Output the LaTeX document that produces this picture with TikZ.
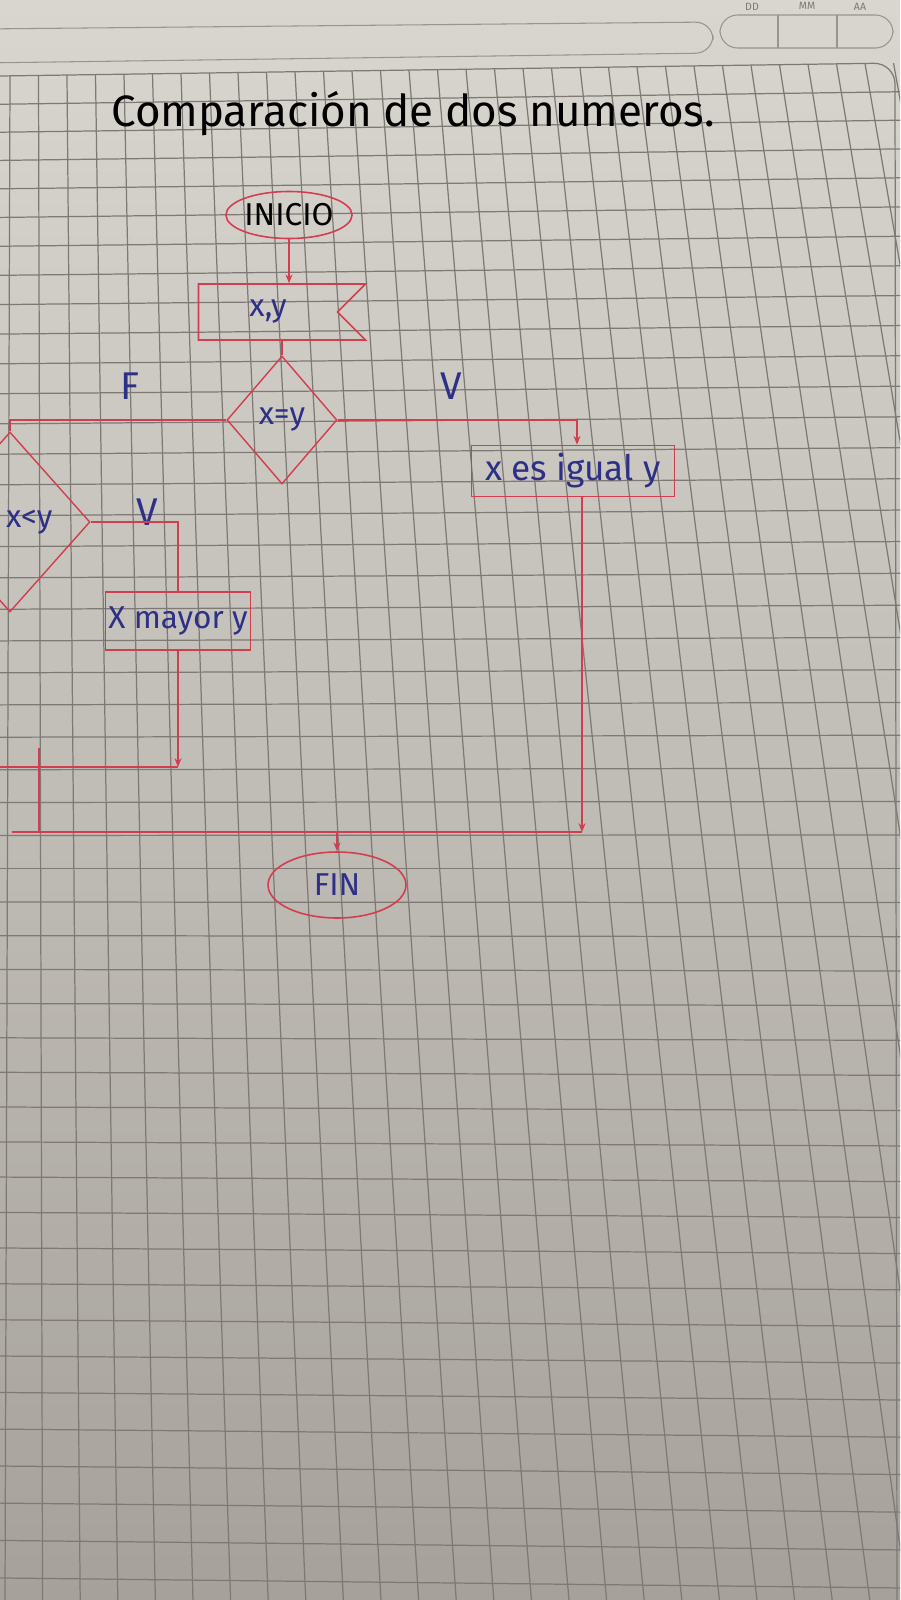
\documentclass[tikz,border=0pt]{standalone}
\usepackage{fontspec}
\setmainfont{Fira Sans}
\usetikzlibrary{arrows.meta,shapes.geometric,shapes.symbols}
\definecolor{ink}{HTML}{D43D4F}
\definecolor{pen}{HTML}{2E2F86}
\definecolor{paper}{HTML}{D9D6D0}
\definecolor{papermid}{HTML}{C7C3BD}
\definecolor{paperdark}{HTML}{A6A19B}
\definecolor{rule}{HTML}{7E7974}

\begin{document}
\begin{tikzpicture}[
  x=0.02cm, y=-0.02cm,
  >={Stealth[length=5pt,width=4pt]},
  every node/.style={font=\fontsize{18}{21}\selectfont, text=pen},
  term/.style={ellipse, draw=ink, line width=0.9pt, inner sep=0pt, minimum width=2.34cm, minimum height=0.94cm},
  inbox/.style={signal, signal from=east, signal to=nowhere, draw=ink, line width=0.9pt, inner sep=0pt, minimum width=3.34cm, minimum height=1.12cm},
  decision/.style={diamond, aspect=0.86, draw=ink, line width=0.8pt, inner sep=0pt},
  proc/.style={rectangle, draw=ink, line width=0.9pt, inner sep=0pt},
  flowlabel/.style={font=\fontsize{22}{24}\selectfont},
  link/.style={draw=ink, line width=1pt},
  arrow/.style={->, link},
  gridline/.style={draw=rule, line width=0.7pt},
  header/.style={draw=rule!80, line width=0.6pt, rounded corners=10pt}
]
\useasboundingbox (0,0) rectangle (900,1600);
\clip (0,0) rectangle (900,1600);

% paper and grid
\shade[top color=paper, middle color=papermid, bottom color=paperdark] (0,0) rectangle (900,1600);
\foreach \i in {0,...,31}
  \draw[gridline] ({10+28.5*\i},{76-0.0144*(10+28.5*\i)}) -- ({5+37.6*\i},1600);
\foreach \n in {1,...,47}
  \draw[gridline] (0,{70+27.89*\n+0.1087*\n*\n-(-13+0.5*\n)/2}) -- (900,{70+27.89*\n+0.1087*\n*\n+(-13+0.5*\n)/2});
\draw[gridline, rounded corners=12pt] (0,76) -- (895,63) -- (897,1600);
\draw[header] (-20,29) -- (713,22) -- (713,53) -- (-20,63) -- cycle;
\draw[header] (720,15) rectangle (893,48);
\draw[draw=rule!80, line width=0.6pt] (778,15) -- (778,48) (837,15) -- (837,48);
\node[text=rule, font=\fontsize{6}{7}\selectfont] (dd) at (752,7) {DD};
\node[text=rule, font=\fontsize{6}{7}\selectfont] (mm) at (807,6) {MM};
\node[text=rule, font=\fontsize{6}{7}\selectfont] (aa) at (860,7) {AA};

\node[text=black, font=\fontsize{25}{28}\selectfont] (titulo) at (413,114) {Comparación de dos numeros.};

\node[term, text=black] (inicio) at (289,215) {INICIO};
\node[inbox] (datos) at (268,312) {x,y};
\node[decision, minimum width=2.2cm, minimum height=2.56cm] (cond) at (282,420) {x=y};
\node[decision, minimum width=3.2cm, minimum height=3.6cm] (menor) at (10,522) {\hspace*{22pt}x<y};
\node[proc, minimum width=2.9cm, minimum height=1.16cm] (mayor) at (178,621) {X mayor y};
\node[proc, minimum width=4.06cm, minimum height=1.02cm, font=\fontsize{20}{23}\selectfont] (igual) at (573,471) {x es igual y};
\node[term, minimum width=2.76cm, minimum height=1.32cm] (fin) at (337,885) {FIN};

\node[flowlabel] (falso) at (130,386) {F};
\node[flowlabel] (verdad) at (451,386) {V};
\node[flowlabel] (verdad2) at (147,512) {V};

\coordinate (igualin) at ([xshift=0.08cm]igual.north);
\coordinate (igualout) at ([xshift=0.18cm]igual.south);
\coordinate (mjoin) at (178,767);
\coordinate (mleft) at (-5,767);
\coordinate (ltop) at (39,748);
\coordinate (lbot) at (39,832);
\coordinate (bstart) at (12,832);
\coordinate (bend) at (igualout |- bstart);
\coordinate (bmid) at (fin.north |- bstart);

\draw[arrow] (inicio.south) -- (inicio.south |- datos.north);
\draw[link] (cond.north |- datos.south) -- (cond.north);
\draw[link] (cond.west) -| (menor.north);
\draw[arrow] (cond.east) -| (igualin);
\draw[link] (menor.east) -| (mayor.north);
\draw[arrow] (mayor.south) -- (mjoin);
\draw[link] (mjoin) -- (mleft);
\draw[link] (ltop) -- (lbot);
\draw[arrow] (igualout) -- (bend);
\draw[link] (bstart) -- (bend);
\draw[arrow, line width=1.4pt] (bmid) -- (fin.north);
\end{tikzpicture}
\end{document}
